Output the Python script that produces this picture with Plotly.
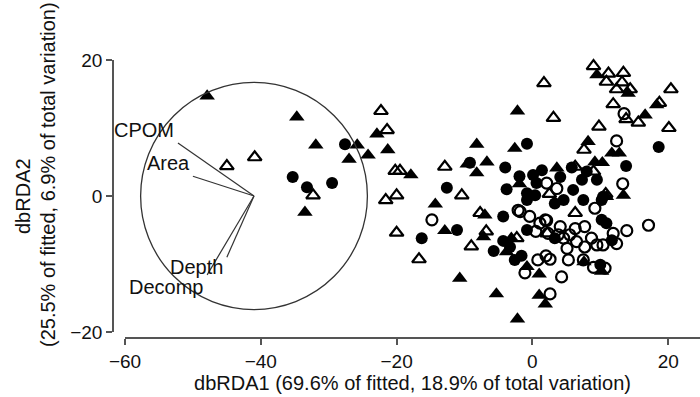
import plotly.graph_objects as go

# ---- data ----
ft_x = [-47.9, -34.7, -33.5, -31.9, -25.8, -27.0, -24.2, -22.9, -21.3, -17.9, -8.2, -9.6, -8.2, -14.3, -12.9, -10.7,
        9.5, 14.1, 18.3, 16.6, -2.2, -2.6, 8.2, 11.7, 12.8, 9.2, 10.3, -6.7, 3.6, 13.4, -1.9, 10.9, -7.0, -7.2,
        -3.1, -3.8, -0.8, 1.0, 7.6, 10.2, -5.3, 1.0, 1.9, -2.2]
ft_y = [14.7, 11.6, -2.4, 7.5, 7.5, 5.4, 6.0, 9.1, 6.8, 3.1, 7.6, 4.7, 3.4, -1.2, -5.1, -12.1,
        17.8, 15.1, 13.4, 11.9, 12.5, 7.0, 8.0, 6.3, 6.3, 5.0, 4.9, 5.0, 4.1, 0.1, 1.8, -0.1, -2.8, -6.0,
        -6.2, -8.2, -10.4, -11.5, -9.7, -11.1, -14.4, -14.6, -15.9, -18.1]

ot_x = [-45.0, -40.9, -32.3, -22.3, -21.4, -20.2, -19.5, -21.6, -20.0, -20.0, -16.7, -12.9, -10.4, -9.0,
        9.0, 11.2, 13.4, 10.9, 13.2, 12.4, 14.4, 20.4, 1.7, 3.1, 11.9, 18.7, 9.8, 13.8, 15.6, 20.1, 7.6,
        6.3, 2.5, 10.8, 9.0, 6.3, -7.7, -2.3, -6.8, 2.2]
ot_y = [4.4, 5.7, 0.1, 12.5, 9.7, 3.7, 3.7, -0.6, 0.1, -5.4, -9.3, 4.3, 0.1, -7.4,
        19.1, 18.0, 18.1, 16.8, 16.7, 15.7, 15.7, 15.7, 16.6, 11.5, 13.5, 13.7, 10.2, 11.3, 10.8, 10.0, 6.8,
        4.3, 0.3, 0.3, 3.6, -2.5, -2.5, -6.2, -5.2, -5.5]

fc_x = [-35.3, -33.2, -29.5, -27.6, -12.6, -16.3, -11.1, -9.2,
        -0.8, 18.6, 13.8, -4.0, -1.9, -3.8, 0.1, 1.4, 5.8, 8.0, 4.1, 7.3, 9.5, 0.6, 6.0, 10.4, 4.6, 7.5,
        3.3, 10.2, -0.8, 0.4, -4.3, -0.8, -4.3, -5.7, -2.6, -1.6, -3.3, -0.8, 3.3, 10.2, 10.9, 11.7, 10.0]
fc_y = [2.8, 1.3, 1.9, 7.6, 1.2, -6.2, -5.0, 4.9,
        7.7, 7.2, 4.4, 4.2, 2.9, 1.0, 3.1, 3.8, 4.2, 3.6, 2.8, 2.4, 2.4, 1.9, 0.9, -0.1, -0.6, -0.6,
        -1.1, -0.6, -0.6, 0.1, -3.0, 0.4, -6.6, -8.1, -9.4, -8.8, -7.5, -5.0, -6.2, -3.5, -4.0, -6.5, -10.1]

oc_x = [-14.8, 12.4, 13.5, 13.3, 2.1, 3.6, -2.1, -0.4, 1.9, 4.1, 9.2, -1.8, 1.1, 2.1, 6.3, 7.7, 0.5, 2.3,
        3.8, 4.6, 5.5, 6.5, 7.7, 8.7, 9.5, 10.4, 12.4, 13.9, 17.1, 11.9, 5.1, 5.3, 2.0, 2.6, 0.8, -1.1, 4.3,
        7.5, 9.0, 10.7, 2.6]
oc_y = [-3.5, 8.1, 12.1, 1.8, 1.9, 1.1, -2.1, -3.0, -3.5, -4.5, -1.8, -2.3, -4.0, -3.6, -4.8, -4.5, -5.2, -5.5,
        -5.7, -6.2, -5.7, -6.7, -7.5, -6.2, -7.2, -7.2, -7.0, -5.1, -4.3, -5.5, -7.7, -9.4, -8.8, -9.3, -9.4, -11.3, -11.9,
        -9.4, -10.5, -10.6, -14.4]

# vector overlay
vec_names = ["CPOM", "Area", "Depth", "Decomp"]
vec_end_x = [-52.2, -50.0, -45.0, -47.9]
vec_end_y = [7.8, 2.9, -9.0, -11.6]
lab_x = [-57.25, -53.55, -49.5, -54.0]
lab_y = [9.7, 4.9, -10.5, -13.4]
circle_cx, circle_cy, circle_r = -41.0, 0.0, 16.7

x_ticks = [-60, -40, -20, 0, 20]
y_ticks = [-20, 0, 20]
x_title = "dbRDA1 (69.6% of fitted, 18.9% of total variation)"
y_title_1 = "dbRDA2"
y_title_2 = "(25.5% of fitted, 6.9% of total variation)"

FONT = "Liberation Sans, Arial, sans-serif"
fig = go.Figure()

def add(xs, ys, symbol, size, lw):
    fig.add_trace(go.Scatter(x=xs, y=ys, mode="markers", cliponaxis=False, showlegend=False,
                             hoverinfo="skip",
                             marker=dict(symbol=symbol, size=size, color="black",
                                         line=dict(width=lw, color="black"))))

add(ft_x, ft_y, "triangle-up", 13.5, 0)
add(fc_x, fc_y, "circle", 12, 0)
add(ot_x, ot_y, "triangle-up-open", 12, 2.2)
add(oc_x, oc_y, "circle-open", 11, 2.2)

# circle
fig.add_shape(type="circle", xref="x", yref="y",
              x0=circle_cx - circle_r, x1=circle_cx + circle_r,
              y0=circle_cy - circle_r, y1=circle_cy + circle_r,
              line=dict(color="#333", width=1.3))
for ex, ey in zip(vec_end_x, vec_end_y):
    fig.add_shape(type="line", xref="x", yref="y", x0=circle_cx, y0=circle_cy, x1=ex, y1=ey,
                  line=dict(color="#333", width=1.2))
for n, lx, ly in zip(vec_names, lab_x, lab_y):
    fig.add_annotation(x=lx, y=ly, text=n, showarrow=False, xref="x", yref="y",
                       font=dict(family=FONT, size=20, color="#111"))

W, H = 700, 397
L, R, T, B = 113, 0, 60, 59
pw, ph = W - L - R, H - T - B
x_left_px = 125
xr0 = -60
pxu = 6.79
xr1 = xr0 + (W - R - x_left_px) / pxu

def px_x(p):
    return (p - L) / pw

def px_y(p):
    return (H - B - p) / ph

# y-axis title (two lines, placed as in the reference)
fig.add_annotation(x=px_x(23), y=px_y(196), xref="paper", yref="paper", text=y_title_1,
                   textangle=-90, showarrow=False, xanchor="center", yanchor="middle",
                   font=dict(family=FONT, size=20, color="#111"))
fig.add_annotation(x=px_x(48), y=px_y(175), xref="paper", yref="paper", text=y_title_2,
                   textangle=-90, showarrow=False, xanchor="center", yanchor="middle",
                   font=dict(family=FONT, size=20, color="#111"))

fig.update_layout(
    width=W, height=H, margin=dict(l=L, r=R, t=T, b=B, autoexpand=False),
    plot_bgcolor="white", paper_bgcolor="white",
    font=dict(family=FONT, size=20, color="#111"),
    xaxis=dict(domain=[(x_left_px - L) / pw, 1], range=[xr0, xr1], anchor="free", position=0,
               automargin=False,
               showline=True, linecolor="#555", linewidth=1.5, ticks="outside", ticklen=6,
               tickcolor="#555", tickwidth=1.5, tickvals=x_ticks, showgrid=False, zeroline=False,
               tickfont=dict(size=19),
               title=dict(text=x_title, font=dict(size=20), standoff=4)),
    yaxis=dict(domain=[6 / ph, 1], range=[-20, 20], anchor="free", position=0,
               automargin=False,
               showline=True, linecolor="#555", linewidth=1.5, ticks="outside", ticklen=6,
               tickcolor="#555", tickwidth=1.5, tickvals=y_ticks, showgrid=False, zeroline=False,
               tickfont=dict(size=19)),
)
fig.write_html("out.html", config={"displayModeBar": False},
               post_script="document.body.style.margin='0';document.body.style.padding='0';")
